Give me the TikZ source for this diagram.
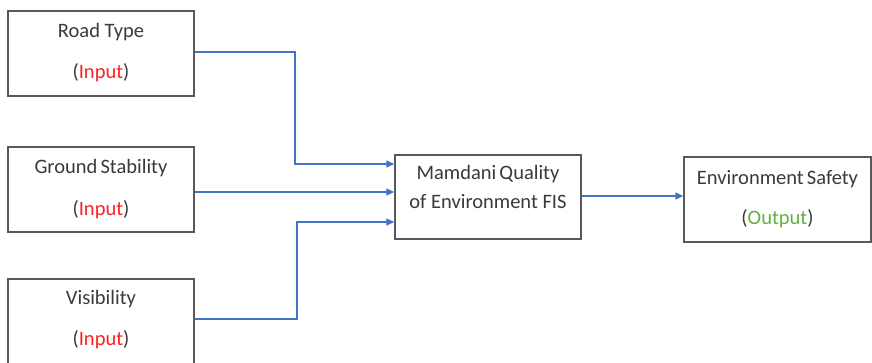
\documentclass[tikz,border=0pt]{standalone}
\usepackage{fontspec}
\setmainfont{Carlito}
\usetikzlibrary{arrows.meta}
\definecolor{txt}{HTML}{3A3A3A}
\definecolor{boxc}{HTML}{595959}
\definecolor{linec}{HTML}{4472C4}
\definecolor{inred}{HTML}{FF2020}
\definecolor{outgreen}{HTML}{5FB040}
\begin{document}
\begin{tikzpicture}[x=1pt,y=-1pt,
  blk/.style={draw=boxc,line width=1.4pt,fill=white,inner sep=0pt},
  lbl/.style={text=txt,font=\fontsize{20.5}{24}\selectfont,inner sep=0pt,anchor=center},
  conn/.style={draw=linec,line width=1.3pt,-{Triangle[length=8pt,width=7pt]}},
  plain/.style={draw=linec,line width=1.3pt}]
\useasboundingbox (0,0) rectangle (872,362);
% boxes
\node[blk,minimum width=186pt,minimum height=85pt] (road) at (101,53.5) {};
\node[blk,minimum width=186pt,minimum height=85pt] (ground) at (101,189.5) {};
\node[blk,minimum width=186pt,minimum height=88pt] (vis) at (101,323) {};
\node[blk,minimum width=186pt,minimum height=84pt] (fis) at (488,197) {};
\node[blk,minimum width=187pt,minimum height=85pt] (env) at (777.5,199.5) {};
% texts
\node[lbl] (t1) at (101,32) {Road Type};
\node[lbl] (t1b) at (101,73) {(\textcolor{inred}{Input})};
\node[lbl] (t2) at (101,168) {Ground\hspace{-1.5pt} Stability};
\node[lbl] (t2b) at (101,210) {(\textcolor{inred}{Input})};
\node[lbl] (t3) at (101,299) {Visibility};
\node[lbl] (t3b) at (101,340) {(\textcolor{inred}{Input})};
\node[lbl] (t4) at (488,174) {Mamdani\hspace{-1.5pt} Quality};
\node[lbl] (t4b) at (488,202) {of Environment FIS};
\node[lbl] (t5) at (777.5,179) {Environment\hspace{-1.5pt} Safety};
\node[lbl] (t5b) at (777.5,219) {(\textcolor{outgreen}{Output})};
% connectors
\coordinate (b1) at (295,52);
\coordinate (b3) at (297,319);
\draw[conn] (road.east |- b1) -| (295,164) -- (fis.west |- 0,164);
\draw[conn] (ground.east |- 0,192) -- (fis.west |- 0,192);
\draw[conn] (vis.east |- b3) -| (297,222) -- (fis.west |- 0,222);
\draw[conn] (fis.east |- 0,196) -- (env.west |- 0,196);
\end{tikzpicture}
\end{document}
